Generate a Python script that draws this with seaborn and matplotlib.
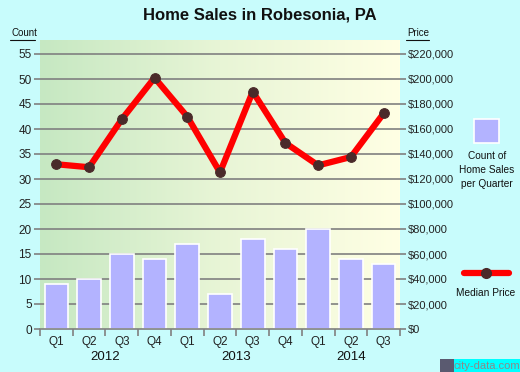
import numpy as np
import pandas as pd
import matplotlib
matplotlib.use("Agg")
import matplotlib.pyplot as plt
import seaborn as sns
from matplotlib.colors import LinearSegmentedColormap
from matplotlib.lines import Line2D
from matplotlib.patches import Rectangle

# ---- data ----
quarters = ["Q1", "Q2", "Q3", "Q4", "Q1", "Q2", "Q3", "Q4", "Q1", "Q2", "Q3"]
years = ["2012", "2013", "2014"]
year_spans = [(0, 3), (4, 7), (8, 10)]
sales_count = [9, 10, 15, 14, 17, 7, 18, 16, 20, 14, 13]
median_price = [131800, 129400, 167800, 201000, 169900, 125300, 189900,
                148800, 130900, 137600, 172500]
count_ticks = [0, 5, 10, 15, 20, 25, 30, 35, 40, 45, 50, 55]
price_ticks = [0, 20000, 40000, 60000, 80000, 100000, 120000, 140000,
               160000, 180000, 200000, 220000]

sns.set_theme(style="white")
plt.rcParams['font.family'] = ['Liberation Sans', 'DejaVu Sans']

W, H = 520, 372
fig = plt.figure(figsize=(W / 100, H / 100), dpi=100)
bg = "#C8FCFC"
fig.patch.set_facecolor(bg)

x0, x1, y0, y1 = 40, 400, 40, 329
ax = fig.add_axes([x0 / W, 1 - y1 / H, (x1 - x0) / W, (y1 - y0) / H])
ymax = 55 + (54 - 40) / 5.0
ax.set_ylim(0, ymax)
ax.set_xlim(-0.5, len(quarters) - 0.5)

# gradient background
cmap = LinearSegmentedColormap.from_list("g", ["#C6E8C2", "#E8F5D6", "#FFFFE4"])
grad = np.linspace(0, 1, 256).reshape(1, -1)
ax.imshow(grad, extent=[-0.5, len(quarters) - 0.5, 0, ymax], aspect="auto",
          cmap=cmap, zorder=0)

for t in count_ticks[1:]:
    ax.axhline(t, color="#808080", lw=1.2, zorder=1)

df = pd.DataFrame({"pos": list(range(len(quarters))), "count": sales_count,
                   "price": median_price})
sns.barplot(data=df, x="pos", y="count", ax=ax, color="#B3B3FF",
            saturation=1, width=0.72, edgecolor="white", linewidth=1.2,
            zorder=2, native_scale=True)
ax.set_xlim(-0.5, len(quarters) - 0.5)
ax.set_ylim(0, ymax)

ax2 = ax.twinx()
ax2.set_ylim(0, ymax * 4000)
sns.lineplot(data=df, x="pos", y="price", ax=ax2, color="#FF0000", lw=4.5,
             marker="o", markersize=7, markerfacecolor="#4A2A2A",
             markeredgecolor="#4A2A2A", zorder=5)
ax2.set_xlim(-0.5, len(quarters) - 0.5)

for a in (ax, ax2):
    for s in a.spines.values():
        s.set_visible(False)
    a.set_xlabel("")
    a.set_ylabel("")
    a.grid(False)

ax.spines["bottom"].set_visible(True)
ax.spines["bottom"].set_color("#808080")
ax.spines["bottom"].set_linewidth(1.2)

ax.set_yticks(count_ticks)
ax.set_yticklabels([str(t) for t in count_ticks], fontsize=8.5, color="#222222")
ax.tick_params(axis="y", left=True, length=4, width=1.2, color="#808080", pad=2)
ax2.set_yticks(price_ticks)
ax2.set_yticklabels(["${:,}".format(t) for t in price_ticks], fontsize=8,
                    color="#222222")
ax2.tick_params(axis="y", right=True, length=4, width=1.2, color="#808080", pad=2)

ax.set_xticks(np.arange(-0.5, len(quarters), 1.0))
ax.set_xticklabels([])
ax.tick_params(axis="x", bottom=True, length=5, width=1.2, color="#808080")
ax.set_xticks(range(len(quarters)), minor=True)
ax.set_xticklabels(quarters, minor=True, fontsize=8.5, color="#222222")
ax.tick_params(axis="x", which="minor", length=0, pad=5)

for yr, (a, b) in zip(years, year_spans):
    ax.text((a + b) / 2, -5.6, yr, ha="center", va="center", fontsize=9.5,
            color="#111111")

# title and axis captions
fig.text(260 / W, 1 - 15 / H, "Home Sales in Robesonia, PA", ha="center",
         va="center", fontsize=12, fontweight="bold", color="#111111")
fig.text(11 / W, 1 - 33 / H, "Count", ha="left", va="center", fontsize=7,
         color="#111111")
fig.add_artist(Line2D([10 / W, 35 / W], [1 - 40 / H, 1 - 40 / H],
                      color="#111111", lw=0.8))
fig.text(407 / W, 1 - 33 / H, "Price", ha="left", va="center", fontsize=7,
         color="#111111")
fig.add_artist(Line2D([406 / W, 429 / W], [1 - 40 / H, 1 - 40 / H],
                      color="#111111", lw=0.8))

# legend
fig.add_artist(Rectangle((474 / W, 1 - 143 / H), 25 / W, 24 / H,
                         facecolor="#B3B3FF", edgecolor="white", lw=1.2))
fig.text(487 / W, 1 - 170 / H, "Count of\nHome Sales\nper Quarter",
         ha="center", va="center", fontsize=7.3, color="#111111",
         linespacing=1.45)
fig.add_artist(Line2D([464 / W, 509 / W], [1 - 273 / H, 1 - 273 / H],
                      color="#FF0000", lw=4.5))
fig.add_artist(Line2D([486 / W], [1 - 273 / H], marker="o", markersize=7,
                      color="#4A2A2A"))
fig.text(486 / W, 1 - 293 / H, "Median Price", ha="center", va="center",
         fontsize=7.3, color="#111111")

# watermark
fig.add_artist(Rectangle((454 / W, 0), 66 / W, 13 / H, facecolor="#00FFFF",
                         edgecolor="none"))
fig.add_artist(Rectangle((440 / W, 0), 14 / W, 13 / H, facecolor="#5A5A70",
                         edgecolor="none"))
fig.text(487 / W, 6 / H, "city-data.com", ha="center", va="center",
         fontsize=8, color="#8A8A8A")

fig.savefig("out.png", dpi=100, facecolor=bg)
